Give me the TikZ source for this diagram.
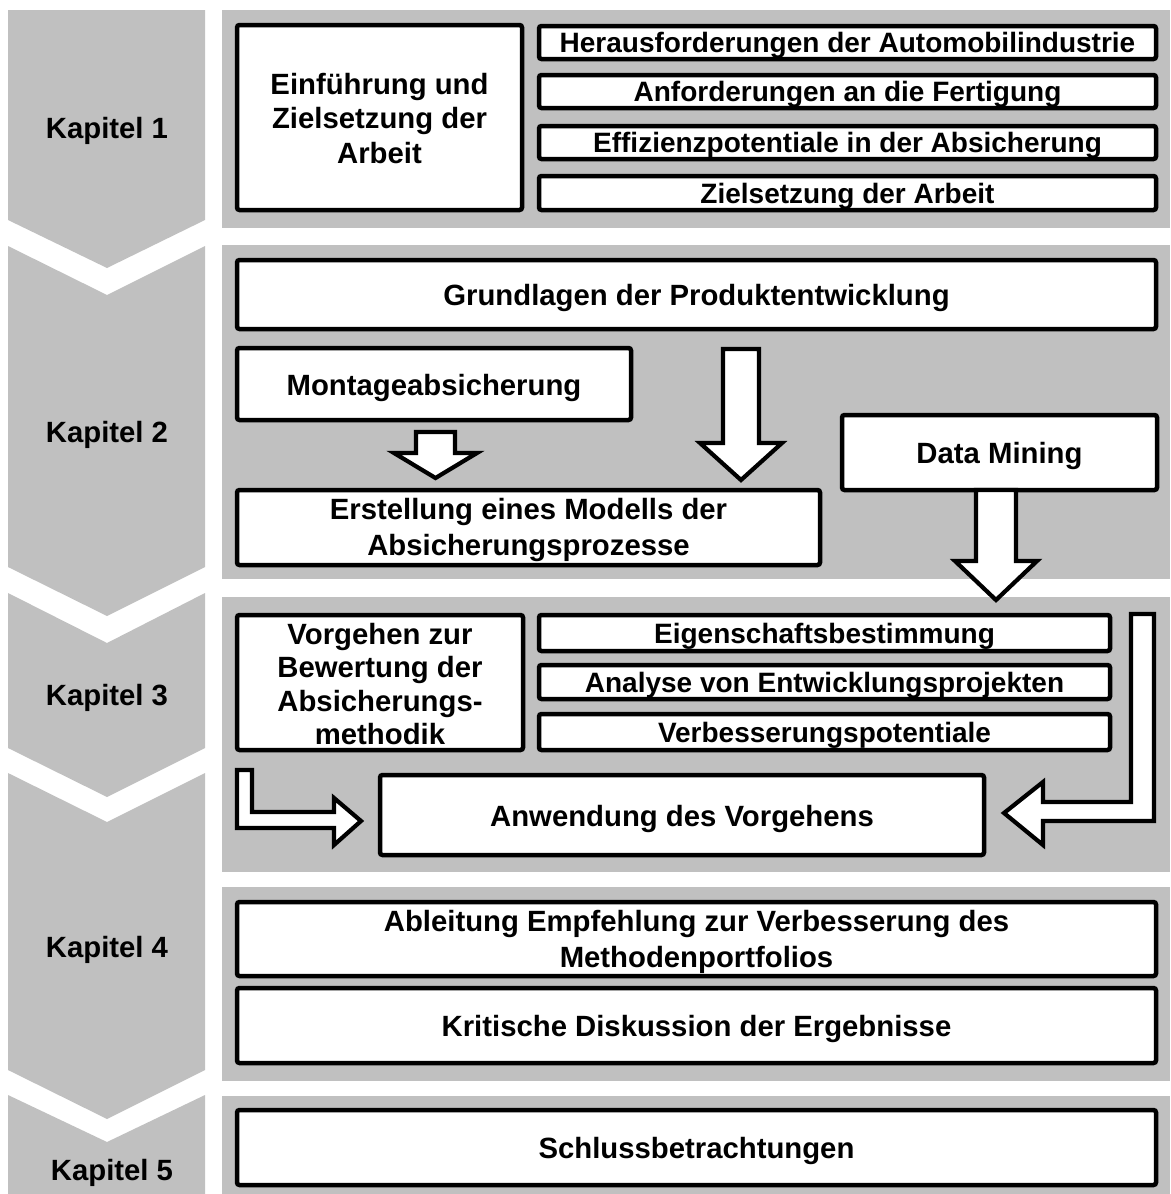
\documentclass[tikz,border=0pt]{standalone}
\usepackage{fontspec}
\setmainfont{Liberation Sans}
\definecolor{gry}{RGB}{192,192,192}
\newcommand\bigfont{\fontsize{29.3}{34.5}\selectfont\bfseries}
\newcommand\tightfont{\fontsize{29.3}{33.6}\selectfont\bfseries}
\newcommand\widefont{\fontsize{29.3}{36}\selectfont\bfseries}
\newcommand\smallfont{\fontsize{28}{34}\selectfont\bfseries}
% white framed box with its caption dropped slightly below the box centre
% #1 caption drop, #2 name, #3,#4 centre, #5 width, #6 height, #7 font, #8 caption
\newcommand\chapbox[8][3.5]{%
  \node[box,minimum width=#5pt,minimum height=#6pt] (#2) at (#3,#4) {};
  \node[boxtext,font=#7] (#2-t) at ([yshift=-#1pt]#2.center) {#8};}
\begin{document}
\begin{tikzpicture}[x=1pt,y=-1pt,
  panel/.style={fill=gry,draw=none},
  box/.style={draw=black,line width=4.5pt,fill=white,rounded corners=2.5pt,inner sep=0pt},
  boxtext/.style={inner sep=0pt,align=center},
  blockarrow/.style={draw=black,line width=4.2pt,fill=white,line join=miter},
  kap/.style={font=\bigfont,anchor=base}]
\useasboundingbox (0,0) rectangle (1170,1194);

% chapter chevrons
\fill[gry] (8,10) -- (205,10) -- (205,220) -- (107,268) -- (8,220) -- cycle;
\fill[gry] (8,246) -- (107,295) -- (205,246) -- (205,567) -- (107,616) -- (8,567) -- cycle;
\fill[gry] (8,593) -- (107,643) -- (205,593) -- (205,748) -- (107,797) -- (8,748) -- cycle;
\fill[gry] (8,773) -- (107,822) -- (205,773) -- (205,1070) -- (107,1119) -- (8,1070) -- cycle;
\fill[gry] (8,1095) -- (107,1142) -- (205,1095) -- (205,1194) -- (8,1194) -- cycle;

\node[kap] (k1) at (107,138) {Kapitel 1};
\node[kap] (k2) at (107,442) {Kapitel 2};
\node[kap] (k3) at (107,705) {Kapitel 3};
\node[kap] (k4) at (107,957) {Kapitel 4};
\node[kap] (k5) at (112,1180) {Kapitel 5};

% chapter panels
\fill[panel] (222,10) rectangle (1170,228);
\fill[panel] (222,245) rectangle (1170,579);
\fill[panel] (222,597) rectangle (1170,872);
\fill[panel] (222,887) rectangle (1170,1081);
\fill[panel] (222,1096) rectangle (1170,1194);

% Kapitel 1
\chapbox[1]{intro}{379.5}{117.5}{285}{185}{\bigfont}{Einführung und\\Zielsetzung der\\Arbeit}
\chapbox[3]{h1}{847.5}{42.5}{617}{33}{\smallfont}{Herausforderungen der Automobilindustrie}
\chapbox[3]{h2}{847.5}{91.5}{617}{33}{\smallfont}{Anforderungen an die Fertigung}
\chapbox[3]{h3}{847.5}{142.5}{617}{33}{\smallfont}{Effizienzpotentiale in der Absicherung}
\chapbox[3]{h4}{847.5}{193}{617}{34}{\smallfont}{Zielsetzung der Arbeit}

% Kapitel 2
\chapbox{grund}{696.5}{294.5}{919}{69}{\bigfont}{Grundlagen der Produktentwicklung}
\chapbox{mont}{434}{384}{394}{72}{\bigfont}{Montageabsicherung}
\chapbox[2.5]{modell}{528.5}{527.5}{583}{75}{\widefont}{Erstellung eines Modells der\\Absicherungsprozesse}
\chapbox{dm}{999.5}{452.5}{315}{75}{\bigfont}{Data Mining}

% Kapitel 3
\chapbox[1.5]{vorg}{380}{682.5}{286}{135}{\tightfont}{Vorgehen zur\\Bewertung der\\Absicherungs-\\methodik}
\chapbox[3]{eig}{824.5}{633}{571}{36}{\smallfont}{Eigenschaftsbestimmung}
\chapbox[3]{ana}{824.5}{682}{571}{34}{\smallfont}{Analyse von Entwicklungsprojekten}
\chapbox[3]{verb}{824.5}{732}{571}{36}{\smallfont}{Verbesserungspotentiale}
\chapbox[4]{anw}{682}{815}{604}{80}{\bigfont}{Anwendung des Vorgehens}

% Kapitel 4
\chapbox[3]{abl}{696.5}{939}{919}{74}{\widefont}{Ableitung Empfehlung zur Verbesserung des\\Methodenportfolios}
\chapbox{krit}{696.5}{1025.5}{919}{75}{\bigfont}{Kritische Diskussion der Ergebnisse}

% Kapitel 5
\chapbox{schl}{696.5}{1147.5}{919}{75}{\bigfont}{Schlussbetrachtungen}

% block arrows
% Montageabsicherung -> Modell
\draw[blockarrow] (416,432) -- (455,432) -- (455,453) -- (477,453) -- (435.5,478)
  -- (394,453) -- (416,453) -- cycle;
% Grundlagen -> Modell
\draw[blockarrow] (723,349) -- (759,349) -- (759,443) -- (782,443) -- (741,480)
  -- (700,443) -- (723,443) -- cycle;
% Data Mining -> Kapitel 3
\draw[blockarrow] (976,490) -- (1016,490) -- (1016,561) -- (1037,561)
  -- (996,600) -- (955,561) -- (976,561) -- cycle;
% Vorgehen -> Anwendung
\draw[blockarrow] (237,770) -- (252,770) -- (252,812) -- (334,812) -- (334,798)
  -- (361,821) -- (334,845) -- (334,828) -- (237,828) -- cycle;
% right side -> Anwendung
\draw[blockarrow] (1131,614) -- (1154,614) -- (1154,821) -- (1043,821) -- (1043,845)
  -- (1004,813) -- (1043,782) -- (1043,802) -- (1131,802) -- cycle;
\end{tikzpicture}
\end{document}
